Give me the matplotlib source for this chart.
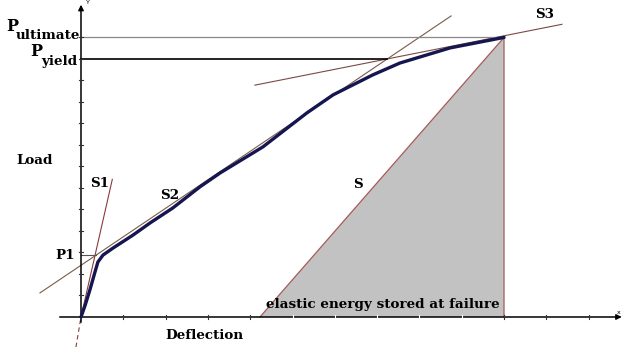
import numpy as np
import matplotlib
matplotlib.use('Agg')
import matplotlib.pyplot as plt

# load-deflection curve (deflection, load) in tick units
defl = [0.0, 0.10, 0.21, 0.33, 0.40, 0.52, 0.76, 1.23, 1.63, 2.17, 2.81,
        3.29, 4.30, 5.34, 5.96, 6.90, 7.54, 8.72, 10.0]
load = [0.0, 0.56, 1.26, 2.09, 2.56, 2.88, 3.21, 3.81, 4.37, 5.07, 6.05,
        6.70, 7.91, 9.49, 10.33, 11.26, 11.81, 12.51, 13.0]

# tangent lines given by their end points
s1 = [(-0.12, -1.40), (0.74, 6.40)]
s2 = [(-0.97, 1.12), (8.75, 14.0)]
s3 = [(4.11, 10.78), (11.37, 13.61)]

p_ult = 13.0
unload_start = 4.23          # where the elastic unloading line meets the axis
x_ticks = list(range(1, 13))
y_ticks = list(range(1, 14))


def intersect(a, b):
    (x1, y1), (x2, y2) = a
    (x3, y3), (x4, y4) = b
    m1 = (y2 - y1) / (x2 - x1)
    m2 = (y4 - y3) / (x4 - x3)
    x = (y3 - y1 + m1 * x1 - m2 * x3) / (m1 - m2)
    return x, y1 + m1 * (x - x1)


def main():
    plt.rcParams['font.family'] = ['DejaVu Serif']
    fig = plt.figure(figsize=(6.25, 3.47), dpi=100)
    ax = fig.add_axes([0, 0, 1, 1])
    ax.set_xlim(-1.915, 12.86)
    ax.set_ylim(-1.395, 14.74)
    ax.axis('off')

    # axes with arrows
    ax.plot([-0.5, 12.7], [0, 0], color='black', lw=1.1, zorder=3)
    ax.plot([0, 0], [-0.25, 14.3], color='black', lw=1.1, zorder=3)
    ax.annotate('', xy=(12.85, 0), xytext=(12.6, 0),
                arrowprops=dict(arrowstyle='-|>', color='black', lw=1, mutation_scale=8))
    ax.annotate('', xy=(0, 14.65), xytext=(0, 14.2),
                arrowprops=dict(arrowstyle='-|>', color='black', lw=1, mutation_scale=8))
    ax.text(0.12, 14.55, 'Y', fontsize=4.5, family='DejaVu Sans')
    ax.text(12.67, 0.15, 'x', fontsize=4.5, family='DejaVu Sans')

    # shaded elastic energy region
    ax.fill([unload_start, defl[-1], defl[-1]], [0, p_ult, 0],
            color='#c2c2c2', lw=0, zorder=1)
    ax.plot([unload_start, defl[-1], defl[-1]], [0, p_ult, 0],
            color='#a85a5a', lw=0.9, zorder=2)

    # tick marks
    for xt in x_ticks:
        c = 'white' if unload_start < xt < defl[-1] else '#333333'
        ax.plot([xt, xt], [-0.1, 0.1], color=c, lw=0.8, zorder=3)
    for yt in y_ticks:
        ax.plot([-0.05, 0.05], [yt, yt], color='#333333', lw=0.8, zorder=3)

    # tangents
    ax.plot([0, s1[1][0]], [0, s1[1][1]], color='#8a3a3a', lw=0.8, zorder=2)
    ax.plot([s1[0][0], 0], [s1[0][1], 0], color='#8a3a3a', lw=0.8,
            ls=(0, (4, 3)), zorder=2)
    ax.plot(*zip(*s2), color='#7a5a4a', lw=0.8, zorder=2)
    ax.plot(*zip(*s3), color='#7a4a44', lw=0.8, zorder=2)

    # reference levels
    p1 = intersect(s1, s2)
    py = intersect(s2, s3)
    ax.plot([0, p1[0]], [p1[1], p1[1]], color='#555555', lw=0.8, zorder=2)
    ax.plot([0, py[0]], [py[1], py[1]], color='black', lw=1.2, zorder=2)
    ax.plot([0, defl[-1]], [p_ult, p_ult], color='#888888', lw=0.9, zorder=2)

    # load-deflection curve
    ax.plot(defl, load, color='#15154f', lw=2.4, solid_capstyle='round', zorder=4)

    bold = dict(fontweight='bold', fontsize=9.7, color='black')
    ax.text(-0.15, p1[1], 'P1', ha='right', va='center', **bold)
    ax.text(0.45, 6.23, 'S1', ha='center', va='center', **bold)
    ax.text(2.10, 5.67, 'S2', ha='center', va='center', **bold)
    ax.text(10.97, 14.05, 'S3', ha='center', va='center', **bold)
    ax.text(6.55, 6.14, 'S', ha='center', va='center', **bold)
    ax.text(-1.09, 7.3, 'Load', ha='center', va='center', **bold)
    ax.text(2.93, -0.88, 'Deflection', ha='center', va='center', **bold)
    ax.text(7.14, 0.56, 'elastic energy stored at failure', ha='center',
            va='center', **bold)
    ax.text(-1.63, 13.49, 'P', ha='center', va='center', fontweight='bold', fontsize=11.5)
    ax.text(-0.02, 13.1, 'ultimate', ha='right', va='center', **bold)
    ax.text(-1.06, 12.33, 'P', ha='center', va='center', fontweight='bold', fontsize=11.5)
    ax.text(-0.09, 11.9, 'yield', ha='right', va='center', **bold)

    fig.savefig('out.png', dpi=100)


if __name__ == '__main__':
    main()
